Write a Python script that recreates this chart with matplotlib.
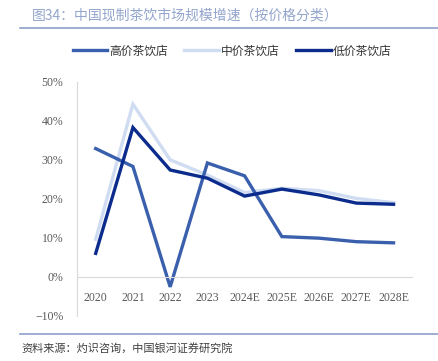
import matplotlib.pyplot as plt
from matplotlib.lines import Line2D
from matplotlib.ticker import PercentFormatter

plt.rcParams['font.family'] = ['Noto Sans CJK SC', 'DejaVu Sans']

years = ["2020", "2021", "2022", "2023", "2024E", "2025E", "2026E", "2027E", "2028E"]
high = [32.9, 28.3, -2.6, 29.2, 25.9, 10.3, 9.9, 9.0, 8.7]
mid = [9.6, 44.3, 30.0, 26.1, 21.6, 22.7, 22.1, 20.1, 19.0]
low = [6.0, 38.3, 27.4, 25.3, 20.7, 22.5, 21.0, 18.9, 18.6]
series_names = ["高价茶饮店", "中价茶饮店", "低价茶饮店"]
colors = ["#3a60ad", "#cfdcf1", "#0b2c8c"]

fig = plt.figure(figsize=(4.38, 3.61), dpi=100)
ax = fig.add_axes([0.176, 0.1255, 0.765, 0.6475])

x = range(len(years))
for vals, c in zip([high, mid, low], colors):
    ax.plot(x, vals, color=c, lw=2.4, solid_joinstyle="miter")
# light line sits underneath
ax.lines[1].set_zorder(1)

ax.set_xlim(-0.5, 8.5)
ax.set_ylim(-10, 50)
ax.set_yticks(range(-10, 51, 10))
ax.yaxis.set_major_formatter(PercentFormatter(decimals=0))
ax.set_xticks(list(x))
ax.set_xticklabels(years)

for s in ["top", "right"]:
    ax.spines[s].set_visible(False)
ax.spines["bottom"].set_position(("data", 0))
ax.spines["bottom"].set_color("#d9d9d9")
ax.spines["left"].set_color("#d9d9d9")
ax.tick_params(length=0, labelsize=8.5, colors="#595959")
ax.tick_params(axis="x", pad=11)
ax.tick_params(axis="y", pad=10)
for lab in ax.get_xticklabels() + ax.get_yticklabels():
    lab.set_family("Liberation Serif")

handles = [Line2D([], [], color=c, lw=2.4) for c in colors]
fig.legend(handles, series_names, loc="center", bbox_to_anchor=(0.53, 0.859), ncol=3,
           frameon=False, fontsize=8.5, handlelength=2.9, handletextpad=0.2,
           columnspacing=1.4, labelcolor="#333333")

fig.text(0.073, 0.957, "图34：中国现制茶饮市场规模增速（按价格分类）", fontsize=10,
         color="#93a5cc", va="center")
fig.add_artist(Line2D([0.046, 1.0], [0.922, 0.922], color="#8d9fc9", lw=1.2))
fig.add_artist(Line2D([0.046, 1.0], [0.075, 0.075], color="#8d9fc9", lw=1.2))
fig.text(0.05, 0.036, "资料来源：灼识咨询，中国银河证券研究院", fontsize=8, color="#404040",
         va="center", style="italic")

fig.savefig("out.png", dpi=100)
